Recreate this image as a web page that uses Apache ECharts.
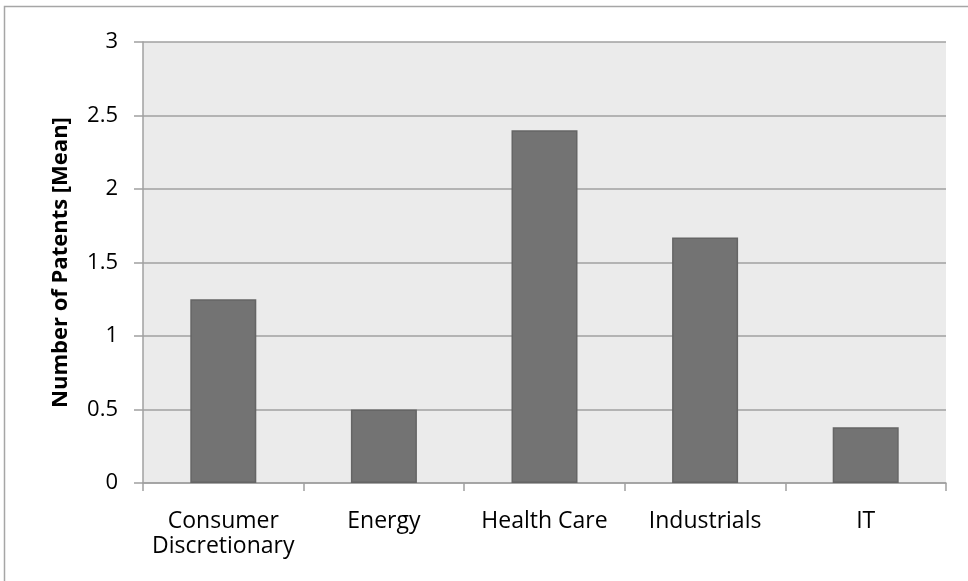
<!DOCTYPE html>
<html>
<head>
<meta charset="utf-8">
<style>
  html, body { margin: 0; padding: 0; background: #ffffff; }
  #chart { width: 968px; height: 581px; }
</style>
<script src="https://cdn.jsdelivr.net/npm/echarts@6/dist/echarts.min.js"></script>
</head>
<body>
<div id="chart"></div>
<script>
// Mean patent counts by sector
const sectors = ['Consumer\nDiscretionary', 'Energy', 'Health Care', 'Industrials', 'IT'];
const meanPatents = [1.25, 0.5, 2.4, 1.67, 0.38];
const yTicks = { min: 0, max: 3, interval: 0.5 };

const FONT = '"Open Sans", sans-serif';
const chart = echarts.init(document.getElementById('chart'), null, { renderer: 'canvas' });

chart.setOption({
  animation: false,
  backgroundColor: '#ffffff',
  graphic: [{
    type: 'rect',
    shape: { x: 4.5, y: 6.5, width: 1000, height: 700 },
    style: { fill: 'none', stroke: '#a6a6a6', lineWidth: 1.5 },
    silent: true,
    z: -1
  }],
  grid: {
    left: 143, top: 42, right: 22, bottom: 98,
    show: true, backgroundColor: '#ebebeb', borderWidth: 0
  },
  xAxis: {
    type: 'category',
    data: sectors,
    axisLine: { show: true, lineStyle: { color: '#a0a0a0', width: 1.5 } },
    axisTick: { show: true, length: 8, alignWithLabel: false, lineStyle: { color: '#a0a0a0', width: 1.5 } },
    axisLabel: { color: '#000000', fontSize: 23, fontFamily: FONT, margin: 26, lineHeight: 25, interval: 0 },
    splitLine: { show: false }
  },
  yAxis: {
    type: 'value',
    min: yTicks.min, max: yTicks.max, interval: yTicks.interval,
    name: 'Number of Patents [Mean]',
    nameLocation: 'middle',
    nameGap: 71,
    nameTextStyle: { color: '#000000', fontSize: 22, fontWeight: 'bold', fontFamily: FONT },
    axisLine: { show: true, lineStyle: { color: '#a0a0a0', width: 1.5 } },
    axisTick: { show: true, length: 9, lineStyle: { color: '#a0a0a0', width: 1.5 } },
    axisLabel: { color: '#000000', fontSize: 22, fontFamily: FONT, margin: 25 },
    splitLine: { show: true, lineStyle: { color: '#a0a0a0', width: 1.5 } }
  },
  series: [{
    type: 'bar',
    data: meanPatents,
    barWidth: 66,
    itemStyle: { color: '#737373', borderColor: '#656565', borderWidth: 1.5 }
  }]
});
</script>
</body>
</html>
